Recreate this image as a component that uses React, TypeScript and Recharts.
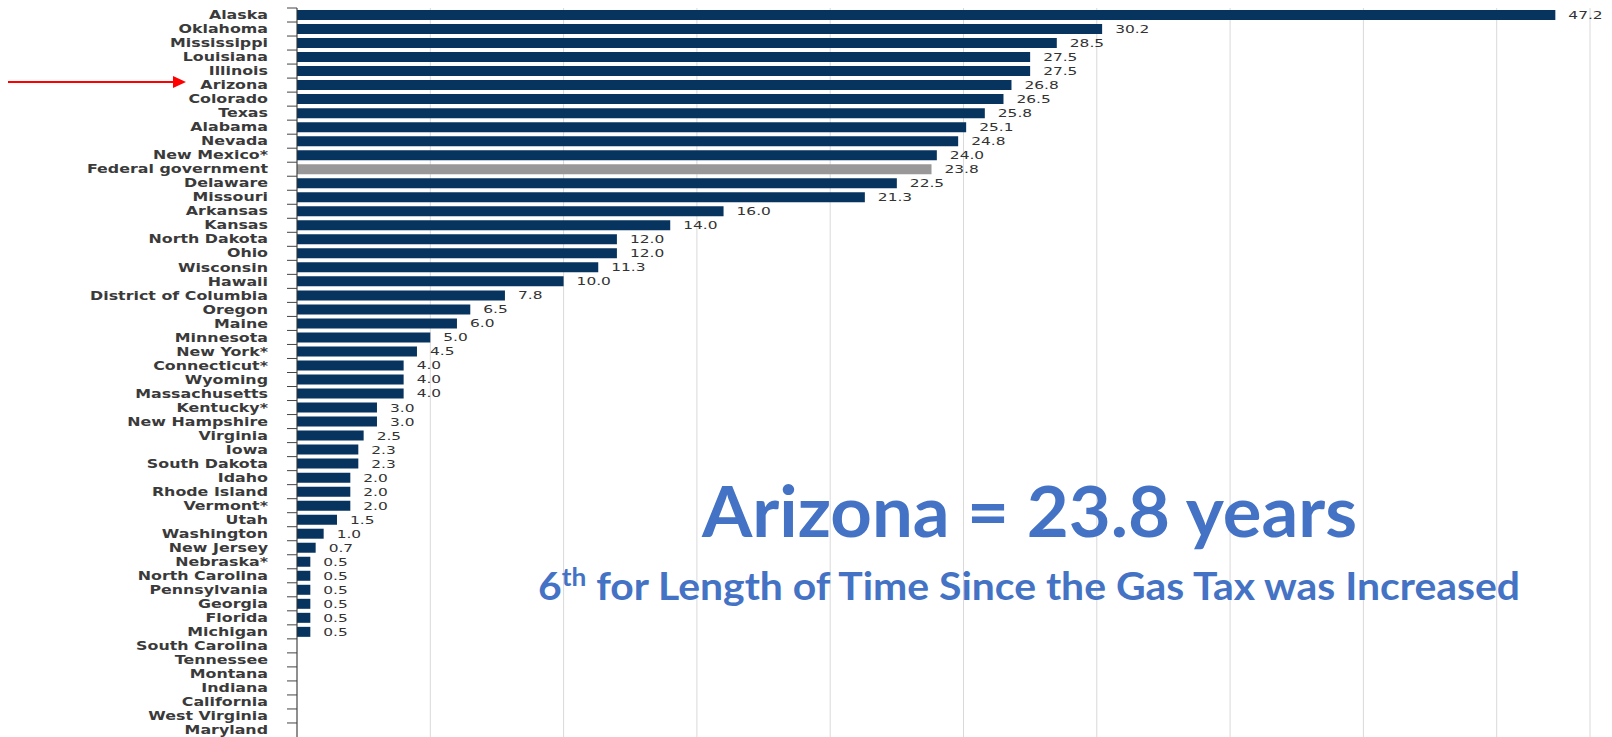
import { BarChart, Bar, XAxis, YAxis, CartesianGrid, Cell, LabelList } from 'recharts';

const states = [
  'Alaska', 'Oklahoma', 'Mississippi', 'Louisiana', 'Illinois', 'Arizona', 'Colorado', 'Texas',
  'Alabama', 'Nevada', 'New Mexico*', 'Federal government', 'Delaware', 'Missouri', 'Arkansas',
  'Kansas', 'North Dakota', 'Ohio', 'Wisconsin', 'Hawaii', 'District of Columbia', 'Oregon',
  'Maine', 'Minnesota', 'New York*', 'Connecticut*', 'Wyoming', 'Massachusetts', 'Kentucky*',
  'New Hampshire', 'Virginia', 'Iowa', 'South Dakota', 'Idaho', 'Rhode Island', 'Vermont*',
  'Utah', 'Washington', 'New Jersey', 'Nebraska*', 'North Carolina', 'Pennsylvania', 'Georgia',
  'Florida', 'Michigan', 'South Carolina', 'Tennessee', 'Montana', 'Indiana', 'California',
  'West Virginia', 'Maryland',
];

const yearsSince = [
  47.2, 30.2, 28.5, 27.5, 27.5, 26.8, 26.5, 25.8,
  25.1, 24.8, 24.0, 23.8, 22.5, 21.3, 16.0,
  14.0, 12.0, 12.0, 11.3, 10.0, 7.8, 6.5,
  6.0, 5.0, 4.5, 4.0, 4.0, 4.0, 3.0,
  3.0, 2.5, 2.3, 2.3, 2.0, 2.0, 2.0,
  1.5, 1.0, 0.7, 0.5, 0.5, 0.5, 0.5,
  0.5, 0.5, 0, 0, 0, 0, 0,
  0, 0,
];

const xTicks = [0, 5, 10, 15, 20, 25, 30, 35, 40, 45];
const federalName = 'Federal government';

const data = states.map((name, i) => ({ name, years: yearsSince[i] }));

const W = 1612;
const H = 737;
const M = { top: 8, right: 22, bottom: 0, left: 0 };
const band = (H - M.top - M.bottom) / states.length;

const StateTick = (props: any) => {
  const { x, y, payload } = props;
  return (
    <g>
      <line x1={x - 10} y1={y - band / 2} x2={x} y2={y - band / 2} stroke="#444" strokeWidth={1} />
      <g transform={`translate(${x - 29},${y})`}>
        <text
          transform="scale(1.38,1)"
          textAnchor="end"
          dy="0.36em"
          fontFamily="DejaVu Sans"
          fontSize={11.5}
          fontWeight="bold"
          fill="#3a3a3a"
        >
          {payload.value}
        </text>
      </g>
    </g>
  );
};

const ValueLabel = (props: any) => {
  const { x, y, width, height, value } = props;
  if (!value) return null;
  return (
    <g transform={`translate(${x + width + 13},${y + height / 2})`}>
      <text transform="scale(1.4,1)" dy="0.36em" fontFamily="DejaVu Sans" fontSize={11} fill="#333">
        {Number(value).toFixed(1)}
      </text>
    </g>
  );
};

export default function App() {
  return (
    <div style={{ position: 'absolute', left: 0, top: 0, width: W, height: H, background: '#fff', overflow: 'hidden' }}>
      <BarChart layout="vertical" width={W} height={H} data={data} margin={M}>
        <CartesianGrid horizontal={false} vertical stroke="#d9d9d9" />
        <XAxis type="number" domain={[0, 48.5]} ticks={xTicks} hide />
        <YAxis
          type="category"
          dataKey="name"
          width={297}
          interval={0}
          tickSize={0}
          tickMargin={0}
          tickLine={false}
          axisLine={{ stroke: '#333' }}
          tick={<StateTick />}
        />
        <Bar dataKey="years" barSize={10} isAnimationActive={false}>
          {data.map((d) => (
            <Cell key={d.name} fill={d.name === federalName ? '#989898' : '#07335f'} />
          ))}
          <LabelList dataKey="years" content={<ValueLabel />} />
        </Bar>
      </BarChart>
      <svg width={W} height={H} style={{ position: 'absolute', left: 0, top: 0, pointerEvents: 'none' }}>
        <line x1={8} y1={82} x2={175} y2={82} stroke="#ff0000" strokeWidth={2} />
        <polygon points="173,76 186,82 173,88" fill="#ff0000" />
        <text
          x={702}
          y={537}
          fontFamily="Lato"
          fontWeight="bold"
          fontSize={70}
          fill="#4472C4"
          textLength={655}
          lengthAdjust="spacingAndGlyphs"
        >
          Arizona = 23.8 years
        </text>
        <text
          x={538}
          y={600}
          fontFamily="Lato"
          fontWeight="bold"
          fontSize={39}
          fill="#4472C4"
          textLength={982}
          lengthAdjust="spacingAndGlyphs"
        >
          6<tspan fontSize={25} dy={-14}>th</tspan>
          <tspan dy={14}> for Length of Time Since the Gas Tax was Increased</tspan>
        </text>
      </svg>
    </div>
  );
}
